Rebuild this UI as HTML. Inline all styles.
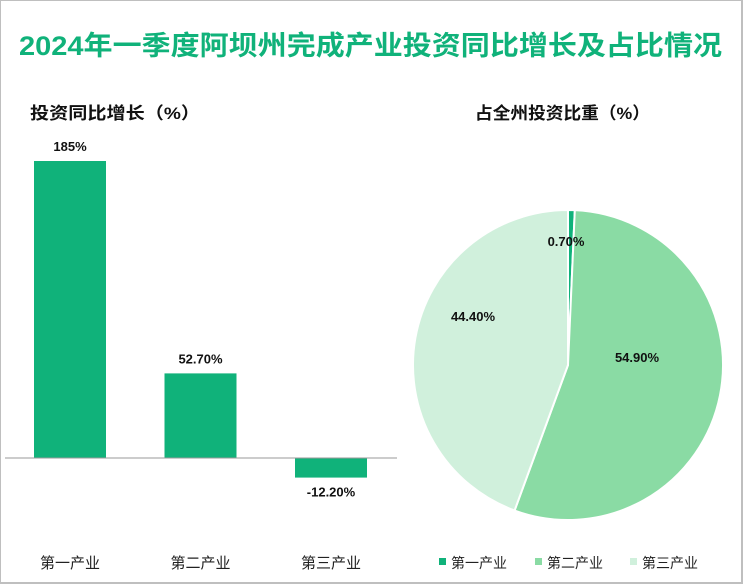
<!DOCTYPE html>
<html><head><meta charset="utf-8"><style>
body{margin:0;background:#fff}
#wrap{position:relative;border:1px solid #bfbfbf;border-right-width:2px;border-bottom-width:2px;box-sizing:border-box;width:743px;height:584px;font-family:"Liberation Sans","Noto Sans CJK SC",sans-serif;overflow:hidden}
svg{position:absolute;left:-1px;top:-1px}
svg text{font-family:"Liberation Sans","Noto Sans CJK SC",sans-serif}
</style></head><body>
<div id="wrap">
<svg id="s" width="743" height="584">
<text x="19" y="55" font-size="27" font-weight="bold" fill="#10b27a" textLength="703" lengthAdjust="spacingAndGlyphs">2024年一季度阿坝州完成产业投资同比增长及占比情况</text>
<text x="30" y="119" font-size="17" font-weight="bold" fill="#111" textLength="170" lengthAdjust="spacingAndGlyphs">投资同比增长（%）</text>
<text x="475" y="119" font-size="17" font-weight="bold" fill="#111" textLength="175" lengthAdjust="spacingAndGlyphs">占全州投资比重（%）</text>
<g id="bars"></g><g id="pie"></g><g id="legend"></g>
</svg>
</div>
<script>
const categories=["第一产业","第二产业","第三产业"];
const growth=[185,52.7,-12.2];
const growthLabels=["185%","52.70%","-12.20%"];
const shares=[0.7,54.9,44.4];
const shareLabels=["0.70%","54.90%","44.40%"];
const colors=["#10b27a","#8adba4","#d0f0dc"];
const NS="http://www.w3.org/2000/svg";
function mk(t,a,p){const e=document.createElementNS(NS,t);for(const k in a)e.setAttribute(k,a[k]);p.appendChild(e);return e;}
const base=458,scale=297/185;
function y(v){return base-v*scale;}
const bars=document.getElementById('bars');
categories.forEach((c,i)=>{
  const x=34+i*130.5,w=72,v=growth[i];
  const r=mk('rect',{x:x,y:Math.min(y(v),base),width:w,height:Math.abs(y(v)-base),fill:"#10b27a"},bars);
  
  
  const t=mk('text',{x:x+w/2,y:v>=0?y(v)-10:y(v)+19,'text-anchor':'middle','font-size':13,'font-weight':'bold',fill:'#111'},bars);
  t.textContent=growthLabels[i];
  
  
  const l=mk('text',{x:x+w/2,y:568,'text-anchor':'middle','font-size':15,fill:'#222'},bars);
  l.textContent=c;
  
  
});
const ax=mk('line',{x1:5,x2:397,y1:base,y2:base,stroke:'#999','stroke-width':1},bars);


const pie=document.getElementById('pie');
const cx=568,cy=365,R=155;
const total=shares.reduce((a,b)=>a+b,0);
let a0=-Math.PI/2;
const lp=[[566,246],[637,362],[473,321]];
shares.forEach((v,i)=>{
  const a1=a0+v/total*2*Math.PI;
  const large=(a1-a0)>Math.PI?1:0;
  const d=`M${cx},${cy} L${cx+R*Math.cos(a0)},${cy+R*Math.sin(a0)} A${R},${R} 0 ${large} 1 ${cx+R*Math.cos(a1)},${cy+R*Math.sin(a1)} Z`;
  const p=mk('path',{d:d,fill:colors[i],stroke:'#fff','stroke-width':2},pie);
  
  
  a0=a1;
});
shares.forEach((v,i)=>{
  const t=mk('text',{x:lp[i][0],y:lp[i][1],'text-anchor':'middle','font-size':13,'font-weight':'bold',fill:'#111'},pie);
  t.textContent=shareLabels[i];
  
  
});
const lg=document.getElementById('legend');
const lx=[439,535,630];
categories.forEach((c,i)=>{
  const g=mk('g',{},lg);
  
  
  mk('rect',{x:lx[i],y:558,width:7,height:7,fill:colors[i]},g);
  const t=mk('text',{x:lx[i]+12,y:568,'font-size':14,fill:'#222'},g);
  t.textContent=c;
});
</script>
</body></html>
